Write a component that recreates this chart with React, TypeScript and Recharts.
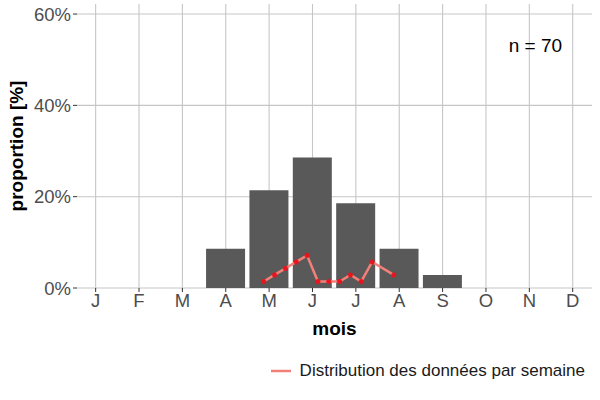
import React from "react";
import {
  ComposedChart,
  Bar,
  Line,
  XAxis,
  YAxis,
  Legend,
  ReferenceDot,
  ReferenceLine,
} from "recharts";

// month positions 1..12
const months = [1, 2, 3, 4, 5, 6, 7, 8, 9, 10, 11, 12];
const monthLabels = ["J", "F", "M", "A", "M", "J", "J", "A", "S", "O", "N", "D"];
const monthShare = [null, null, null, 0.0857, 0.2143, 0.2857, 0.1857, 0.0857, 0.0286, null, null, null];

// weekly distribution (x in month units)
const weekX = [4.875, 5.125, 5.375, 5.625, 5.875, 6.125, 6.375, 6.625, 6.875, 7.125, 7.375, 7.875];
const weekShare = [0.0143, 0.0286, 0.0429, 0.0571, 0.0714, 0.0143, 0.0143, 0.0143, 0.0286, 0.0143, 0.0571, 0.0286];

const yTicks = [0, 0.2, 0.4, 0.6];

const barData = months.map((m, i) => ({ x: m, p: monthShare[i] }));
const lineData = weekX.map((x, i) => ({ x, w: weekShare[i] }));

const FONT = "'Liberation Sans', Arial, sans-serif";
const X_DOMAIN: [number, number] = [0.57, 12.445];
const GRID = "#c6c6c6";

function LegendBox() {
  return (
    <div
      style={{
        display: "flex",
        alignItems: "center",
        justifyContent: "flex-end",
        fontFamily: FONT,
        fontSize: 17,
        color: "#1a1a1a",
        paddingRight: 15,
      }}
    >
      <svg width={24} height={10} style={{ marginRight: 7 }}>
        <line x1={2} y1={5} x2={22} y2={5} stroke="#F08078" strokeWidth={2.5} />
      </svg>
      <span>Distribution des données par semaine</span>
    </div>
  );
}

export default function App() {
  return (
    <div style={{ width: 600, height: 400, position: "relative" }}>
      <style>{"body{margin:0}"}</style>
      <ComposedChart
        width={600}
        height={400}
        data={barData}
        margin={{ top: 4, right: 8, bottom: 82, left: 0 }}
      >
        {yTicks.map((t) => (
          <ReferenceLine key={`h${t}`} y={t} stroke={GRID} strokeWidth={1.1} zIndex={-50} />
        ))}
        {months.map((m) => (
          <ReferenceLine key={`v${m}`} x={m} xAxisId="bars" stroke={GRID} strokeWidth={1.1} zIndex={-50} />
        ))}
        <XAxis
          xAxisId="bars"
          dataKey="x"
          type="number"
          domain={X_DOMAIN}
          ticks={months}
          allowDataOverflow
          hide
        />
        <XAxis
          dataKey="x"
          type="number"
          domain={X_DOMAIN}
          ticks={months}
          allowDataOverflow
          tickFormatter={(v: number) => monthLabels[v - 1]}
          axisLine={false}
          tickLine={{ stroke: "#333333" }}
          tickSize={4}
          height={30}
          tick={{ fill: "#4d4d4d", fontSize: 18.5, fontFamily: FONT }}
          label={{
            value: "mois",
            position: "insideBottom",
            offset: -17,
            style: { fontFamily: FONT, fontSize: 19, fontWeight: "bold", fill: "#000" },
          }}
        />
        <YAxis
          type="number"
          domain={[0, 0.622]}
          ticks={yTicks}
          allowDataOverflow
          tickFormatter={(v: number) => `${Math.round(v * 100)}%`}
          axisLine={false}
          tickLine={{ stroke: "#333333" }}
          tickSize={4}
          width={77}
          tick={{ fill: "#4d4d4d", fontSize: 18.5, fontFamily: FONT }}
          label={{
            value: "proportion [%]",
            angle: -90,
            position: "insideLeft",
            offset: 16,
            style: { fontFamily: FONT, fontSize: 19, fontWeight: "bold", fill: "#000", textAnchor: "middle" },
          }}
        />
        <Bar xAxisId="bars" dataKey="p" fill="#595959" barSize={39} isAnimationActive={false} />
        <Line
          data={lineData}
          dataKey="w"
          stroke="#F08078"
          strokeWidth={2.5}
          dot={{ r: 2.3, fill: "#E8141E", stroke: "#E8141E", strokeWidth: 0.5 }}
          activeDot={false}
          isAnimationActive={false}
        />
        <ReferenceDot
          x={11.14}
          y={0.532}
          r={0}
          ifOverflow="visible"
          label={{
            value: "n = 70",
            position: "center",
            style: { fontFamily: FONT, fontSize: 19, fill: "#000" },
          }}
        />
        <Legend
          layout="horizontal"
          verticalAlign="middle"
          align="center"
          wrapperStyle={{ top: 361, left: 0, width: 600 }}
          content={() => <LegendBox />}
        />
      </ComposedChart>
    </div>
  );
}
